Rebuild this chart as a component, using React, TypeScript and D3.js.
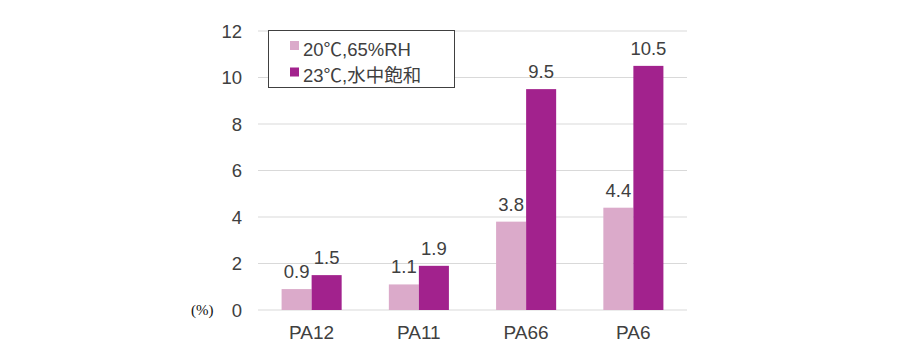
import React, { useRef, useEffect } from 'react'
import * as d3 from 'd3'

const categories = ['PA12', 'PA11', 'PA66', 'PA6']
const seriesNames = ['20℃,65%RH', '23℃,水中飽和']
const humid = [0.9, 1.1, 3.8, 4.4]
const water = [1.5, 1.9, 9.5, 10.5]
const yTicks = [0, 2, 4, 6, 8, 10, 12]

const colors = ['#dbaaca', '#a2228d']
const font = '"Liberation Sans", Arial, "Noto Sans CJK JP", sans-serif'

const renderChart = (svg: SVGSVGElement) => {
  const width = 900
  const height = 360
  const svgD3 = d3.select(svg).attr('width', width).attr('height', height)
  svgD3.selectAll('*').remove()

  const x0 = d3.scaleBand<string>().domain(categories).range([258, 687]).paddingInner(0.44).paddingOuter(0.22)
  const x1 = d3.scaleBand<number>().domain([0, 1]).range([0, x0.bandwidth()])
  const y = d3.scaleLinear().domain([0, 12]).range([310, 31])

  // grid lines
  svgD3
    .append('g')
    .selectAll('line')
    .data(yTicks)
    .enter()
    .append('line')
    .attr('x1', 258)
    .attr('x2', 687)
    .attr('y1', (d) => y(d))
    .attr('y2', (d) => y(d))
    .attr('stroke', '#d9d9d9')
    .attr('stroke-width', 1)

  // y tick labels
  svgD3
    .append('g')
    .selectAll('text')
    .data(yTicks)
    .enter()
    .append('text')
    .attr('x', 242)
    .attr('y', (d) => y(d))
    .attr('dy', '0.36em')
    .attr('text-anchor', 'end')
    .attr('font-family', font)
    .attr('font-size', 18.5)
    .attr('fill', '#404040')
    .text((d) => d)

  svgD3
    .append('text')
    .attr('x', 191)
    .attr('y', 315)
    .attr('font-family', '"Liberation Serif", "DejaVu Serif", serif')
    .attr('font-size', 15)
    .attr('fill', '#111')
    .text('(%)')

  const series = [humid, water]
  series.forEach((vals, s) => {
    const g = svgD3.append('g')
    g.selectAll('rect')
      .data(vals)
      .enter()
      .append('rect')
      .attr('x', (d, i) => (x0(categories[i]) || 0) + (x1(s) || 0))
      .attr('y', (d) => y(d))
      .attr('width', x1.bandwidth())
      .attr('height', (d) => y(0) - y(d))
      .attr('fill', colors[s])
    g.selectAll('text')
      .data(vals)
      .enter()
      .append('text')
      .attr('x', (d, i) => (x0(categories[i]) || 0) + (x1(s) || 0) + x1.bandwidth() / 2)
      .attr('y', (d) => y(d) - 11)
      .attr('text-anchor', 'middle')
      .attr('font-family', font)
      .attr('font-size', 18.5)
      .attr('fill', '#404040')
      .text((d) => d.toFixed(1))
  })

  // category labels
  svgD3
    .append('g')
    .selectAll('text')
    .data(categories)
    .enter()
    .append('text')
    .attr('x', (d) => (x0(d) || 0) + x0.bandwidth() / 2)
    .attr('y', 339)
    .attr('text-anchor', 'middle')
    .attr('font-family', font)
    .attr('font-size', 19)
    .attr('fill', '#404040')
    .text((d) => d)

  // legend
  const legend = svgD3.append('g')
  legend
    .append('rect')
    .attr('x', 268.5)
    .attr('y', 30.5)
    .attr('width', 186)
    .attr('height', 57)
    .attr('fill', '#fff')
    .attr('stroke', '#404040')
    .attr('stroke-width', 1)
  seriesNames.forEach((name, i) => {
    legend
      .append('rect')
      .attr('x', 290)
      .attr('y', 41 + i * 26.5)
      .attr('width', 9)
      .attr('height', 9)
      .attr('fill', colors[i])
    legend
      .append('text')
      .attr('x', 303)
      .attr('y', 55.5 + i * 26.5)
      .attr('font-family', font)
      .attr('font-size', 18.5)
      .attr('fill', '#404040')
      .text(name)
  })
}

export default function App() {
  const ref = useRef<SVGSVGElement>(null)
  useEffect(() => {
    if (ref.current) renderChart(ref.current)
  }, [])
  return (
    <svg
      ref={ref}
      style={{ position: 'absolute', left: 0, top: 0, background: '#fff' }}
      width={900}
      height={360}
    />
  )
}
